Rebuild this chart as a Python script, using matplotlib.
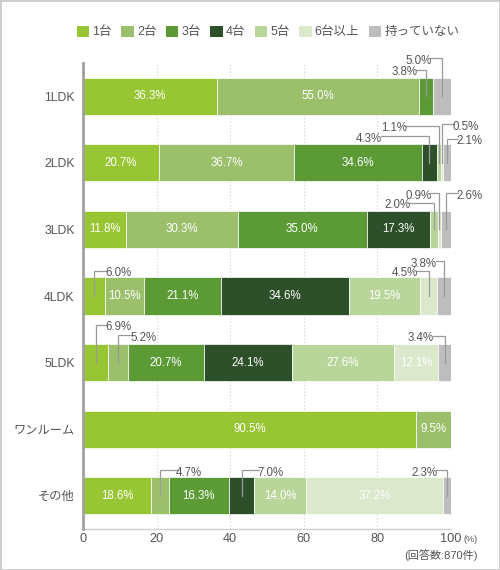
import matplotlib
matplotlib.use('Agg')
import matplotlib.pyplot as plt
from matplotlib.patches import Rectangle, Patch

plt.rcParams['font.family'] = ['Liberation Sans', 'Noto Sans CJK JP', 'DejaVu Sans']

categories = ['1LDK', '2LDK', '3LDK', '4LDK', '5LDK', 'ワンルーム', 'その他']
series_names = ['1台', '2台', '3台', '4台', '5台', '6台以上', '持っていない']
s1 = [36.3, 20.7, 11.8, 6.0, 6.9, 90.5, 18.6]
s2 = [55.0, 36.7, 30.3, 10.5, 5.2, 9.5, 4.7]
s3 = [3.8, 34.6, 35.0, 21.1, 20.7, 0, 16.3]
s4 = [0, 4.3, 17.3, 34.6, 24.1, 0, 7.0]
s5 = [0, 1.1, 2.0, 19.5, 27.6, 0, 14.0]
s6 = [0, 0.5, 0.9, 4.5, 12.1, 0, 37.2]
s7 = [5.0, 2.1, 2.6, 3.8, 3.4, 0, 2.3]
series = [s1, s2, s3, s4, s5, s6, s7]
colors = ['#98c533', '#9bbf6a', '#5b9a35', '#2d4f29', '#b8d69a', '#dbe8cb', '#bdbdbd']
xticks = [0, 20, 40, 60, 80, 100]

# callout layout: (row, series) -> (height above row centre, text x, alignment)
callouts = {
    (0, 2): (0.40, 90.8, 'right'), (0, 6): (0.57, 94.8, 'right'),
    (1, 3): (0.40, 81.3, 'right'), (1, 4): (0.56, 88.0, 'right'),
    (1, 5): (0.58, 100.3, 'left'), (1, 6): (0.36, 101.4, 'left'),
    (2, 4): (0.40, 88.9, 'right'), (2, 5): (0.54, 94.8, 'right'),
    (2, 6): (0.54, 101.4, 'left'),
    (3, 0): (0.38, 6.0, 'left'), (3, 5): (0.38, 91.0, 'right'),
    (3, 6): (0.52, 96.2, 'right'),
    (4, 0): (0.57, 6.0, 'left'), (4, 1): (0.41, 12.8, 'left'),
    (4, 6): (0.40, 95.4, 'right'),
    (6, 1): (0.38, 25.3, 'left'), (6, 3): (0.38, 47.3, 'left'),
    (6, 6): (0.38, 96.2, 'right'),
}

fig = plt.figure(figsize=(5, 5.7), dpi=100)
ax = fig.add_axes([0.166, 0.0719, 0.736, 0.8176])

ypos = list(range(len(categories)))
left = [0.0] * len(categories)
for si, vals in enumerate(series):
    ax.barh(ypos, vals, left=left, height=0.56, color=colors[si],
            edgecolor='white', linewidth=0.5, zorder=2)
    for ri, v in enumerate(vals):
        if v <= 0:
            continue
        cx = left[ri] + v / 2
        label = f'{v:.1f}%'
        if (ri, si) in callouts:
            lvl, tx, ha = callouts[(ri, si)]
            ly = ri - lvl
            gap = -0.4 if ha == 'left' else 0.4
            ax.plot([cx, cx, tx - gap], [ri, ly, ly], color='#9a9a9a',
                    lw=0.9, zorder=3, clip_on=False, solid_joinstyle='miter')
            ax.text(tx, ly + 0.035, label, ha=ha, va='center', fontsize=8.3,
                    color='#555555', zorder=4, clip_on=False)
        else:
            ax.text(cx, ri, label, ha='center', va='center', fontsize=8.3,
                    color='white', zorder=4)
    left = [l + v for l, v in zip(left, vals)]

ax.set_xlim(0, 100)
ax.set_ylim(6.5, -0.5)
ax.set_yticks(ypos)
ax.set_yticklabels(categories, fontsize=8.8, color='#555555')
ax.set_xticks(xticks)
ax.set_xticklabels([str(t) for t in xticks], fontsize=9.2, color='#555555')
ax.tick_params(axis='both', length=0)
ax.tick_params(axis='y', pad=6)
ax.tick_params(axis='x', pad=3)
for t in xticks[1:]:
    ax.axvline(t, color='#cfcfcf', lw=0.8, ls=(0, (1, 2)), zorder=1)
for s in ['top', 'right']:
    ax.spines[s].set_visible(False)
ax.spines['left'].set_color('#a0a0a0')
ax.spines['left'].set_linewidth(2)
ax.spines['left'].set_zorder(5)
ax.spines['bottom'].set_color('#d0d0d0')
ax.spines['bottom'].set_linewidth(1)

fig.text(463 / 500, 1 - 539 / 570, '(%)', fontsize=6.5, color='#555555',
         ha='left', va='center')
fig.text(478 / 500, 1 - 555 / 570, '(回答数:870件)', fontsize=8, color='#555555',
         ha='right', va='center')

handles = [Patch(facecolor=c, edgecolor='none') for c in colors]
fig.legend(handles, series_names, loc='center', bbox_to_anchor=(268 / 500, 1 - 32 / 570),
           ncol=7, frameon=False, fontsize=9, handlelength=1.0, handleheight=1.0,
           handletextpad=0.25, columnspacing=0.75, labelcolor='#555555')

fig.add_artist(Rectangle((0, 0), 1, 1, transform=fig.transFigure, fill=False,
                         edgecolor='#cccccc', lw=2))

fig.savefig('out.png', dpi=100)
